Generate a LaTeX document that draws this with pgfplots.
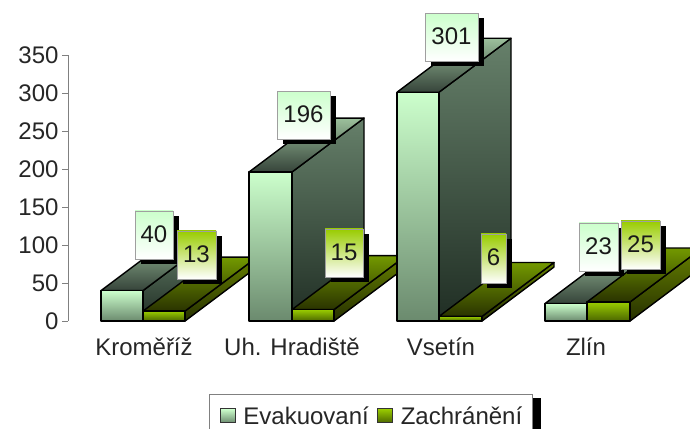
\documentclass[border=0pt]{standalone}
\usepackage{fontspec}
\setmainfont{Liberation Sans}
\usepackage{pgfplots}
\pgfplotsset{compat=1.18}
\usetikzlibrary{shadows}

\definecolor{evaTop}{HTML}{CCFFCC}
\definecolor{evaBot}{HTML}{6B8A6E}
\definecolor{evaBack}{HTML}{9CC09C}
\definecolor{evaFront}{HTML}{36443A}
\definecolor{evaSideT}{HTML}{66806A}
\definecolor{evaSideB}{HTML}{202E24}
\definecolor{zacTop}{HTML}{99CC00}
\definecolor{zacBot}{HTML}{4C6600}
\definecolor{zacBack}{HTML}{739900}
\definecolor{zacFront}{HTML}{2A3300}
\definecolor{zacSideT}{HTML}{668000}
\definecolor{zacSideB}{HTML}{263000}

% x in picture pixels, y in chart units; depth is 72 px across, 71 units up
\newcommand{\tdbar}[4]{%
  \pgfmathsetmacro\xl{#1}\pgfmathsetmacro\xr{#2}\pgfmathsetmacro\yv{#3}%
  \pgfmathsetmacro\xlb{#1+72}\pgfmathsetmacro\xrb{#2+72}\pgfmathsetmacro\yb{#3+71}%
  \addplot[forget plot,no markers,black,line width=1.4pt,line join=round,top color=#4SideT,bottom color=#4SideB]
    coordinates {(\xr,0)(\xrb,71)(\xrb,\yb)(\xr,\yv)} --cycle;
  \addplot[forget plot,no markers,black,line width=1.4pt,line join=round,top color=#4Back,bottom color=#4Front]
    coordinates {(\xl,\yv)(\xr,\yv)(\xrb,\yb)(\xlb,\yb)} --cycle;
  \addplot[forget plot,no markers,black,line width=1.4pt,line join=round,top color=#4Top,bottom color=#4Bot]
    coordinates {(\xl,0)(\xr,0)(\xr,\yv)(\xl,\yv)} --cycle;
}
% value label: centre x, centre y (px), width, height, top colour, text
\newcommand{\vallab}[6]{%
  \node[draw=gray!75,line width=0.8pt,top color=#5,bottom color=white,inner sep=0pt,
    minimum width=#3pt,minimum height=#4pt,text=black!90,font=\fontsize{24}{28}\selectfont,
    drop shadow={shadow xshift=6pt,shadow yshift=-5pt,opacity=1,fill=black}]
    at (axis cs:#1,{(321-#2)/0.76}) {\raisebox{2.5pt}{#6}};
}

\begin{document}
\begin{tikzpicture}[x=1pt,y=1pt]
\path[use as bounding box] (0pt,0pt) rectangle (690pt,428pt);
\begin{axis}[
    at={(68pt,107pt)}, anchor=south west,
    scale only axis, width=622pt, height=266pt,
    xmin=68, xmax=690, ymin=0, ymax=350,
    clip=false,
    axis lines=left,
    x axis line style={draw=none},
    y axis line style={-,draw=gray,line width=0.8pt},
    ytick={0,50,100,150,200,250,300,350},
    xtick={144,292,441,586},
    xticklabels={Kroměříž,Uh. Hradiště,Vsetín,Zlín},
    x tick style={draw=none},
    y tick style={draw=gray,line width=0.8pt},
    tick align=outside,
    major tick length=6pt,
    /pgf/number format/assume math mode=true,
    tick label style={font=\fontsize{24}{28}\selectfont,text=black!85},
    xticklabel style={yshift=-7pt},
    yticklabel style={xshift=0pt},
    legend style={at={(axis cs:209,-96)},anchor=north west,draw=gray,line width=0.8pt,
      fill=white,font=\fontsize{24}{28}\selectfont,legend columns=2,
      inner xsep=8pt,inner ysep=10pt,text=black!85,
      /tikz/every even column/.append style={column sep=4pt}},
]
% shadow of the legend box
\addplot[forget plot,no markers,draw=none,fill=black]
  coordinates {(216,-101)(541,-101)(541,-150)(216,-150)} --cycle;
% Kroměříž
\tdbar{101}{143}{40}{eva}
\tdbar{143}{185}{13}{zac}
% Uh. Hradiště
\tdbar{249}{292}{196}{eva}
\tdbar{292}{334}{15}{zac}
% Vsetín
\tdbar{397}{439}{301}{eva}
\tdbar{439}{482}{6}{zac}
% Zlín
\tdbar{545}{587}{23}{eva}
\tdbar{587}{630}{25}{zac}

\vallab{154}{235}{38}{48}{evaTop}{40}
\vallab{196.5}{255}{39}{48}{zacTop}{13}
\vallab{303.5}{115}{53}{48}{evaTop}{196}
\vallab{451.5}{37}{53}{48}{evaTop}{301}
\vallab{344}{253}{38}{48}{zacTop}{15}
\vallab{493.5}{258.5}{25}{49}{zacTop}{6}
\vallab{598.5}{247}{39}{48}{evaTop}{23}
\vallab{640.5}{245}{39}{48}{zacTop}{25}

\addlegendimage{legend image code/.code={\path[draw=none] (0pt,0pt) -- (24pt,0pt);\draw[black!80,line width=1pt,top color=evaTop,bottom color=evaBot] (3pt,-7pt) rectangle (18pt,7pt);}}
\addlegendentry{Evakuovaní}
\addlegendimage{legend image code/.code={\path[draw=none] (0pt,0pt) -- (24pt,0pt);\draw[black!80,line width=1pt,top color=zacTop,bottom color=zacBot] (3pt,-7pt) rectangle (18pt,7pt);}}
\addlegendentry{Zachránění}
\end{axis}
\end{tikzpicture}
\end{document}
